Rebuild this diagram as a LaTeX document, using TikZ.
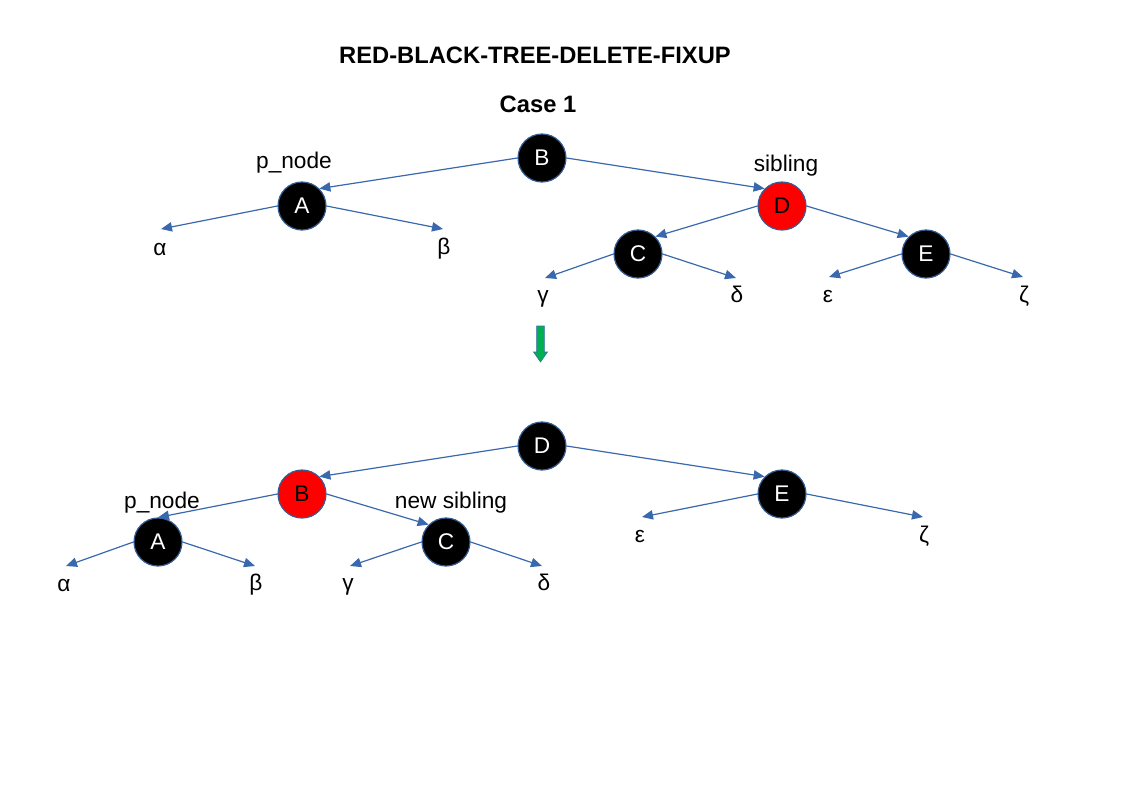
\documentclass[tikz,border=0pt]{standalone}
\usepackage{fontspec}
\setmainfont{Liberation Sans}
\usetikzlibrary{arrows.meta}
\definecolor{edgeblue}{RGB}{57,104,172}
\definecolor{rimblue}{RGB}{52,92,145}
\definecolor{arrgreen}{RGB}{0,176,80}
\begin{document}
\begin{tikzpicture}[x=0.75pt,y=-0.75pt,
  rb/.style={circle,minimum size=36pt,inner sep=0pt,draw=rimblue,line width=0.9pt,font=\fontsize{17}{20}\selectfont},
  blk/.style={rb,fill=black,text=white},
  redn/.style={rb,fill=red,text=black},
  lbl/.style={font=\fontsize{17}{20}\selectfont,anchor=base,inner sep=0pt},
  ttl/.style={font=\bfseries\fontsize{17.8}{21}\selectfont,anchor=base,inner sep=0pt},
  edge/.style={draw=edgeblue,line width=0.9pt,-{Triangle[length=8.25pt,width=7pt]}},
]
\useasboundingbox (0,0) rectangle (1123,794);

\node[ttl] (title) at (535,63) {RED-BLACK-TREE-DELETE-FIXUP};
\node[ttl] (case) at (538,112) {Case 1};

% top tree
\node[blk]  (tB) at (542,158) {B};
\node[blk]  (tA) at (302,206) {A};
\node[redn] (tD) at (782,206) {D};
\node[blk]  (tC) at (638,254) {C};
\node[blk]  (tE) at (926,254) {E};

\coordinate (ta) at (161,229);
\coordinate (tb) at (443,229);
\coordinate (tg) at (545,278);
\coordinate (td) at (736,278);
\coordinate (te) at (829,277);
\coordinate (tz) at (1023,277);

\node[lbl] (tal) at (160,255) {α};
\node[lbl] (tbl) at (444,254) {β};
\node[lbl] (tgl) at (543,302) {γ};
\node[lbl] (tdl) at (737,302) {δ};
\node[lbl] (tel) at (828,302) {ε};
\node[lbl] (tzl) at (1024,302) {ζ};

\node[lbl] (tp) at (294,168) {p\_node};
\node[lbl] (ts) at (786,171) {sibling};

\draw[edge] (tB.west) -- (tA.north east);
\draw[edge] (tB.east) -- (tD.north west);
\draw[edge] (tD.west) -- (tC.north east);
\draw[edge] (tD.east) -- (tE.north west);
\draw[edge] (tA.west) -- (ta);
\draw[edge] (tA.east) -- (tb);
\draw[edge] (tC.west) -- (tg);
\draw[edge] (tC.east) -- (td);
\draw[edge] (tE.west) -- (te);
\draw[edge] (tE.east) -- (tz);

% green arrow
\filldraw[fill=arrgreen,draw=edgeblue,line width=0.4pt]
  (536.7,326) -- (544.3,326) -- (544.3,352) -- (547.5,352) -- (540.5,362)
  -- (533.5,352) -- (536.7,352) -- cycle;

% bottom tree
\node[blk]  (bD) at (542,446) {D};
\node[redn] (bB) at (302,494) {B};
\node[blk]  (bE) at (782,494) {E};
\node[blk]  (bA) at (158,542) {A};
\node[blk]  (bC) at (446,542) {C};

\coordinate (ba) at (66,566);
\coordinate (bb) at (255,566);
\coordinate (bg) at (350,566);
\coordinate (bd) at (542,566);
\coordinate (be) at (642,517);
\coordinate (bz) at (923,517);

\node[lbl] (bal) at (64,591) {α};
\node[lbl] (bbl) at (256,590) {β};
\node[lbl] (bgl) at (348,590) {γ};
\node[lbl] (bdl) at (544,590) {δ};
\node[lbl] (bel) at (640,542) {ε};
\node[lbl] (bzl) at (924,542) {ζ};

\node[lbl] (bp) at (162,508) {p\_node};
\node[lbl] (bs) at (451,508) {new sibling};

\draw[edge] (bD.west) -- (bB.north east);
\draw[edge] (bD.east) -- (bE.north west);
\draw[edge] (bB.west) -- (bA.north);
\draw[edge] (bB.east) -- (bC.north west);
\draw[edge] (bA.west) -- (ba);
\draw[edge] (bA.east) -- (bb);
\draw[edge] (bC.west) -- (bg);
\draw[edge] (bC.east) -- (bd);
\draw[edge] (bE.west) -- (be);
\draw[edge] (bE.east) -- (bz);
\end{tikzpicture}
\end{document}
